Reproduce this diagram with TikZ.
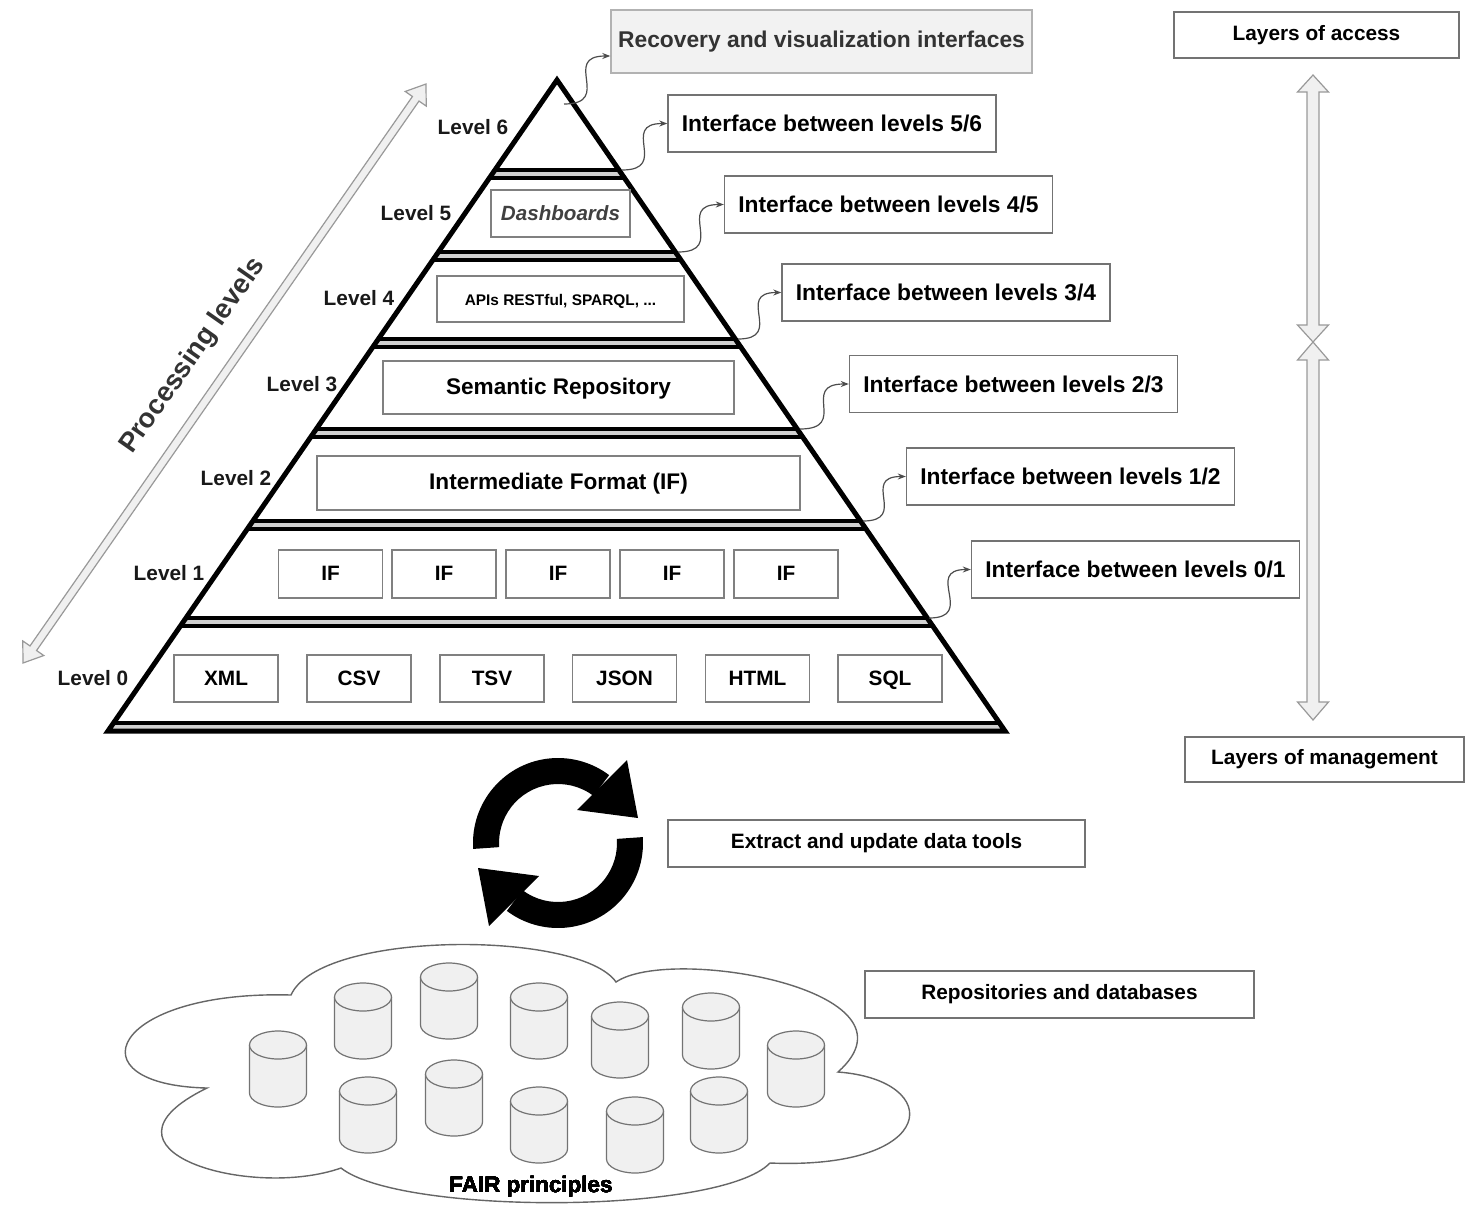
\documentclass[tikz,border=0pt]{standalone}
\usepackage{fontspec}
\setmainfont{Liberation Sans}
\usetikzlibrary{calc,arrows.meta}

\newcommand{\blockarrow}[5]{%
  \coordinate (ha) at ($(#1)!#3!(#2)$);
  \coordinate (hb) at ($(#2)!#3!(#1)$);
  \draw[blockarr] (#1) -- ($(ha)!#5!90:(#1)$) -- ($(ha)!#4!90:(#1)$)
    -- ($(hb)!#4!-90:(#2)$) -- ($(hb)!#5!-90:(#2)$) -- (#2)
    -- ($(hb)!#5!90:(#2)$) -- ($(hb)!#4!90:(#2)$)
    -- ($(ha)!#4!-90:(#1)$) -- ($(ha)!#5!-90:(#1)$) -- cycle;}

\newcommand{\dbdisk}[2]{%
  \filldraw[dbcyl] (#1,#2) ++(-28.5,14) -- ++(0,48)
    arc[start angle=180,end angle=360,x radius=14.25pt,y radius=7pt] -- ++(0,-48)
    arc[start angle=0,end angle=180,x radius=14.25pt,y radius=7pt] -- cycle;
  \draw[dbcyl] (#1,#2) ++(-28.5,14)
    arc[start angle=180,end angle=360,x radius=14.25pt,y radius=7pt];}

\begin{document}
\begin{tikzpicture}[x=0.5pt,y=-0.5pt,
	band/.style={line width=2pt},
	blockarr/.style={draw=black!40, fill=black!6, line width=0.6pt, line join=miter},
	dbcyl/.style={draw=black!55, fill=black!6, line width=0.6pt},
	link/.style={draw=black!70, line width=0.6pt, -{Stealth[length=4pt,width=3pt,fill=black]}},
	lvl/.style={font=\fontsize{10.4}{12}\selectfont\bfseries, text=black!90},
	fmtbox/.style={draw=black!50, line width=0.6pt, inner sep=0pt, minimum width=52pt, minimum height=23.5pt, text height=1.6ex, text depth=0.3ex, font=\fontsize{10.4}{12}\selectfont\bfseries},
	iface/.style={draw=black!55, fill=white, line width=0.7pt, inner sep=0pt, minimum width=164pt, minimum height=28.5pt, font=\fontsize{11.4}{13}\selectfont\bfseries},
	sidebox/.style={draw=black!55, fill=white, line width=0.7pt, inner sep=0pt, minimum height=23pt, font=\fontsize{10.4}{12}\selectfont\bfseries}]

	\useasboundingbox (0,0) rectangle (1466,1205);

	% pyramid
	\coordinate (apex) at (557,80);
	\coordinate (bl) at (108,731);
	\coordinate (br) at (1005,731);
	\begin{scope}
		\clip (apex) -- (bl) -- (br) -- cycle;
		\foreach \y in {170,252,339,429,521,618,723} {
			\fill[black!18] (0,\y) rectangle (1466,\y+7.5);
			\draw[band] (0,\y) -- (1466,\y);
			\draw[band] (0,\y+7.5) -- (1466,\y+7.5);
		}
	\end{scope}
	\draw[line width=2.5pt, line join=miter] (apex) -- (bl) -- (br) -- cycle;

	\begin{scope}[every node/.style={lvl}]
		\node (L6) at (473,127) {Level 6};
		\node (L5) at (416,213) {Level 5};
		\node (L4) at (359,298) {Level 4};
		\node (L3) at (302,384) {Level 3};
		\node (L2) at (236,478) {Level 2};
		\node (L1) at (169,573) {Level 1};
		\node (L0) at (93,678) {Level 0};
	\end{scope}

	\node[fmtbox, minimum width=69.5pt, font=\fontsize{10.3}{12}\selectfont\bfseries\itshape, text=black!75] (dash) at (560.5,213.5) {Dashboards};
	\node[fmtbox, minimum width=123.5pt, minimum height=23pt, font=\fontsize{7.7}{9}\selectfont\bfseries] (apis) at (560.5,299) {APIs RESTful, SPARQL, ...};
	\node[fmtbox, minimum width=175.5pt, minimum height=26.5pt, font=\fontsize{11.3}{13}\selectfont\bfseries] (sem) at (558.5,387.5) {Semantic Repository};
	\node[fmtbox, minimum width=241.5pt, minimum height=27pt, font=\fontsize{11.3}{13}\selectfont\bfseries] (inter) at (558.5,483) {Intermediate Format (IF)};
	\foreach \x [count=\i] in {330.5,444,558,672,786}
		\node[fmtbox, minimum height=24pt] (if\i) at (\x,574) {IF};
	\foreach \x/\t in {226/XML,359/CSV,492/TSV,624.5/JSON,757.5/HTML,890/SQL}
		\node[fmtbox] (\t) at (\x,678.5) {\t};

	% interfaces
	\node[iface, fill=black!5, draw=black!30, minimum width=210.5pt, minimum height=31.5pt, text=black!80] (rec) at (821.5,41.5) {Recovery and visualization interfaces};
	\node[iface] (i56) at (832,123.5) {Interface between levels 5/6};
	\node[iface] (i45) at (888.5,204.5) {Interface between levels 4/5};
	\node[iface] (i34) at (946,292.5) {Interface between levels 3/4};
	\node[iface] (i23) at (1013.5,384) {Interface between levels 2/3};
	\node[iface] (i12) at (1070.5,476.5) {Interface between levels 1/2};
	\node[iface] (i01) at (1135.5,569.5) {Interface between levels 0/1};

	\coordinate (s6) at (564,104);
	\coordinate (s5) at (622,170);
	\coordinate (s4) at (678,252);
	\coordinate (s3) at (738,339);
	\coordinate (s2) at (800,429);
	\coordinate (s1) at (863,521);
	\coordinate (s0) at (929,618);
	\draw[link] (s6) to[out=0,in=180,looseness=1.9] ([yshift=-7.25pt]rec.west);
	\draw[link] (s5) to[out=0,in=180,looseness=1.9] (i56.west);
	\draw[link] (s4) to[out=0,in=180,looseness=1.9] (i45.west);
	\draw[link] (s3) to[out=0,in=180,looseness=1.9] (i34.west);
	\draw[link] (s2) to[out=0,in=180,looseness=1.9] (i23.west);
	\draw[link] (s1) to[out=0,in=180,looseness=1.9] (i12.west);
	\draw[link] (s0) to[out=0,in=180,looseness=1.9] (i01.west);

	% processing levels
	\coordinate (pl1) at (23,663);
	\coordinate (pl2) at (426,84);
	\blockarrow{pl1}{pl2}{9pt}{2pt}{6.4pt}
	\node[rotate=55, font=\fontsize{13.7}{15}\selectfont\bfseries, text=black!80] (proc) at (193,356) {Processing levels};

	% layers
	\node[sidebox, minimum width=142.5pt] (access) at (1316.5,35) {Layers of access};
	\node[sidebox, minimum width=139.5pt, minimum height=22.5pt] (manage) at (1324.5,759.5) {Layers of management};
	\coordinate (ac1) at (1313,75);
	\coordinate (ac2) at (1313,342);
	\coordinate (mg1) at (1313,342);
	\coordinate (mg2) at (1313,720);
	\blockarrow{ac1}{ac2}{8.5pt}{3pt}{7.75pt}
	\blockarrow{mg1}{mg2}{9pt}{3pt}{7.75pt}

	% update cycle
	\coordinate (rc) at (558,843);
	\fill (rc) ++(184:42.5pt) arc[start angle=184,end angle=53,radius=42.5pt]
		-- ($(rc)+(53:29.5pt)$) arc[start angle=53,end angle=184,radius=29.5pt] -- cycle;
	\fill (627,760) -- (638,818) -- (577,810) -- cycle;
	\fill (rc) ++(4:42.5pt) arc[start angle=4,end angle=-127,radius=42.5pt]
		-- ($(rc)+(-127:29.5pt)$) arc[start angle=-127,end angle=4,radius=29.5pt] -- cycle;
	\fill (489,926) -- (478,868) -- (539,876) -- cycle;
	\node[sidebox, minimum width=208.5pt, minimum height=23.5pt] (tools) at (876.5,843.5) {Extract and update data tools};

	% repositories
	\draw[draw=black!60, fill=white, line width=0.7pt] (207,1088) .. controls (70,1085) and (110,990) .. (291,995)
		.. controls (320,930) and (580,930) .. (616,982)
		.. controls (670,945) and (930,990) .. (838,1072)
		.. controls (945,1080) and (940,1170) .. (770,1163)
		.. controls (720,1215) and (400,1215) .. (341,1168)
		.. controls (250,1200) and (80,1150) .. (207,1088) -- cycle;
	\foreach \x/\y in {278/1031,363/983,449/963,539/983,620/1002,711/993,796/1031,368/1077,454/1060,539/1087,635/1097,719/1077}
		\dbdisk{\x}{\y}
	\node[font=\fontsize{11.2}{13}\selectfont\bfseries] (fair) at (531,1187) {FAIR principles};
	\node[sidebox, minimum width=194.5pt, minimum height=23.5pt] (repos) at (1059.5,994.5) {Repositories and databases};

\end{tikzpicture}
\end{document}
